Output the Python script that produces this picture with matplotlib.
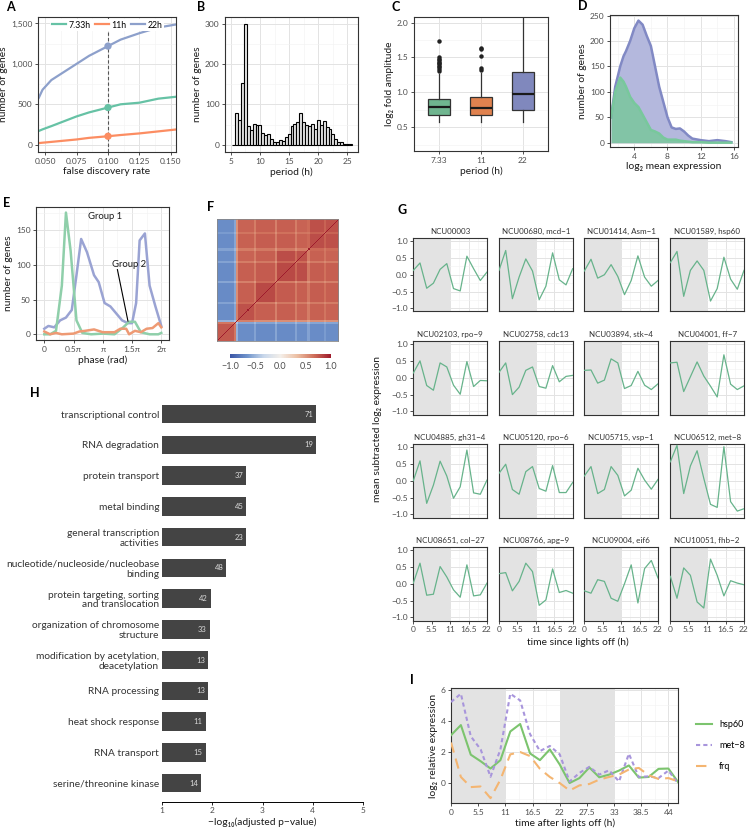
import numpy as np
import matplotlib
matplotlib.use('Agg')
import matplotlib.pyplot as plt
from matplotlib.ticker import AutoMinorLocator, FuncFormatter
from matplotlib.colors import LinearSegmentedColormap, Normalize
import matplotlib.cm as cm

plt.rcParams['font.family'] = ['Lato', 'DejaVu Sans']
plt.rcParams['axes.unicode_minus'] = True

W, H = 749, 830

GREEN = '#66c2a5'
ORANGE = '#fc8d62'
PURPLE = '#8da0cb'

# ---- A: genes vs FDR
fdr = [0.045, 0.048, 0.055, 0.065, 0.075, 0.085, 0.100, 0.110, 0.125, 0.140, 0.155]
genes_733 = [170, 190, 230, 290, 350, 400, 460, 500, 520, 570, 595]
genes_11 = [20, 25, 35, 50, 65, 85, 105, 120, 140, 165, 190]
genes_22 = [580, 680, 800, 900, 1000, 1100, 1220, 1300, 1380, 1450, 1490]

# ---- B: period histogram
period_bins = np.arange(5.5, 25.75, 0.5)
period_counts = [0, 78, 62, 152, 300, 46, 36, 52, 50, 48, 30, 24, 26, 14, 6,
                 8, 12, 10, 18, 26, 46, 52, 56, 80, 56, 50, 46, 52, 38, 62,
                 48, 58, 44, 40, 26, 14, 8, 8, 2, 1, 1]

# ---- C: amplitude boxplots
box_labels = ['7.33', '11', '22']
box_q1 = [0.67, 0.68, 0.75]
box_med = [0.79, 0.77, 0.97]
box_q3 = [0.91, 0.94, 1.29]
box_lo = [0.58, 0.58, 0.58]
box_hi = [1.27, 1.28, 2.10]
box_fliers = [[1.30, 1.33, 1.36, 1.38, 1.40, 1.42, 1.44, 1.46, 1.48, 1.50, 1.73],
              [1.32, 1.35, 1.52, 1.62, 1.64],
              []]

# ---- D: mean expression densities
expr_x = [1.2, 1.7, 2.3, 2.7, 3.0, 3.5, 4.0, 4.5, 5.0, 5.5, 6.0, 6.5, 7.0, 7.5,
          8.0, 8.5, 9.0, 9.5, 10.0, 10.5, 11.0, 12.0, 13.0, 14.0, 15.0, 15.7]
expr_22 = [50, 110, 150, 170, 180, 200, 225, 240, 232, 210, 190, 150, 110, 80,
           50, 30, 27, 28, 22, 14, 8, 5, 3, 5, 3, 1]
expr_733 = [50, 100, 128, 120, 110, 90, 78, 70, 55, 40, 25, 22, 18, 10,
            6, 6, 6, 4, 3, 2, 1, 1, 0, 0, 0, 0]

# ---- E: phase distributions (units of pi)
phase_green = [0, 0.1, 0.2, 0.3, 0.37, 0.45, 0.55, 0.65, 0.8, 1.0, 1.2, 1.35, 1.45, 1.55, 1.65, 1.8, 1.95, 2.0]
count_green = [0, 0, 5, 70, 175, 120, 20, 2, 0, 1, 0, 10, 18, 18, 3, 0, 0, 2]
phase_purple = [0, 0.07, 0.17, 0.27, 0.37, 0.47, 0.55, 0.63, 0.73, 0.85, 0.93, 1.03, 1.13, 1.23, 1.33,
                1.43, 1.5, 1.57, 1.63, 1.72, 1.8, 1.9, 2.0]
count_purple = [8, 12, 10, 20, 24, 35, 85, 137, 118, 85, 75, 45, 40, 30, 20, 16, 16, 45, 135, 145, 70, 40, 12]
phase_orange = [0, 0.1, 0.2, 0.3, 0.5, 0.6, 0.7, 0.85, 1.0, 1.1, 1.2, 1.3, 1.4, 1.45, 1.55, 1.65, 1.75, 1.85, 1.95, 2.0]
count_orange = [4, 0, 2, 0, 1, 4, 5, 7, 3, 3, 3, 8, 8, 0, 5, 3, 8, 9, 16, 10]

# ---- F: correlation blocks (n genes, group sign, strength, cluster)
segments = [(17, -1, 0.82, 0), (2, -1, 0.68, 0), (2, 1, 0.62, 1), (15, 1, 0.84, 1),
            (2, 1, 0.72, 1), (19, 1, 0.86, 2), (2, 1, 0.7, 2), (18, 1, 0.86, 3),
            (2, 1, 0.72, 3), (10, 1, 0.84, 3), (2, 1, 0.72, 4), (14, 1, 0.85, 4),
            (2, 1, 0.76, 4), (13, 1, 0.84, 4)]

# ---- G: example genes
g_time = np.arange(0, 23, 2)
g_titles = ['NCU00003', 'NCU00680, mcd\u22121', 'NCU01414, Asm\u22121', 'NCU01589, hsp60',
            'NCU02103, rpo\u22129', 'NCU02758, cdc13', 'NCU03894, stk\u22124', 'NCU04001, ff\u22127',
            'NCU04885, gh31\u22124', 'NCU05120, rpo\u22126', 'NCU05715, vsp\u22121', 'NCU06512, met\u22128',
            'NCU08651, col\u221227', 'NCU08766, apg\u22129', 'NCU09004, eif6', 'NCU10051, fhb\u22122']
g_values = [
    [0.13, 0.35, -0.40, -0.25, 0.16, 0.33, -0.41, -0.48, 0.55, 0.18, -0.17, 0.08],
    [0.13, 0.72, -0.71, -0.07, 0.47, 0.11, -0.74, -0.34, 0.65, -0.15, -0.30, 0.18],
    [0.11, 0.46, -0.10, 0.00, 0.30, -0.05, -0.59, -0.17, 0.56, -0.07, -0.34, -0.17],
    [0.36, 0.69, -0.64, 0.13, 0.41, 0.13, -0.78, -0.41, 0.52, -0.13, -0.43, 0.13],
    [0.14, 0.50, -0.23, -0.37, 0.44, 0.32, -0.22, -0.49, 0.48, -0.26, -0.08, -0.09],
    [0.16, 0.44, -0.50, -0.28, 0.22, 0.32, -0.26, -0.31, 0.36, -0.12, 0.04, 0.07],
    [0.22, 0.23, -0.16, -0.07, 0.56, 0.44, -0.32, -0.23, 0.19, -0.22, -0.35, -0.18],
    [0.44, 0.46, -0.41, 0.03, 0.47, 0.05, -0.25, -0.57, 0.68, -0.19, -0.35, -0.24],
    [0.00, 0.59, -0.67, -0.13, 0.58, 0.14, -0.52, -0.18, 0.91, -0.36, -0.40, 0.02],
    [0.22, 0.49, -0.26, -0.40, 0.27, 0.42, -0.23, -0.31, 0.45, -0.35, -0.35, -0.05],
    [0.14, 0.42, -0.38, -0.26, 0.42, 0.16, -0.45, -0.28, 0.37, 0.02, -0.25, 0.04],
    [0.56, 1.05, -0.38, 0.44, 0.89, 0.07, -0.70, -0.79, 1.01, -0.62, -0.90, -0.83],
    [0.02, 0.61, -0.34, -0.31, 0.51, 0.20, -0.18, -0.40, 0.56, -0.36, -0.33, 0.02],
    [0.30, 0.33, -0.21, 0.07, 0.61, 0.36, -0.64, -0.48, 0.44, -0.26, -0.20, -0.28],
    [-0.21, -0.28, 0.12, 0.07, -0.43, -0.52, 0.00, 0.56, -0.57, 0.45, 0.69, 0.17],
    [0.22, -0.43, 0.47, 0.25, -0.54, -0.72, 0.73, 0.25, -0.36, 0.09, 0.02, -0.03],
]

# ---- H: enrichment
categories = ['transcriptional control', 'RNA degradation', 'protein transport', 'metal binding',
              'general transcription\nactivities', 'nucleotide/nucleoside/nucleobase\nbinding',
              'protein targeting, sorting\nand translocation', 'organization of chromosome\nstructure',
              'modification by acetylation,\ndeacetylation', 'RNA processing', 'heat shock response',
              'RNA transport', 'serine/threonine kinase']
neglog_p = [4.07, 4.07, 2.68, 2.68, 2.68, 2.28, 1.97, 1.95, 1.92, 1.92, 1.87, 1.87, 1.78]
n_genes = [71, 19, 37, 45, 23, 48, 42, 33, 13, 13, 11, 15, 14]

# ---- I: qPCR time course
i_time = np.arange(0, 47, 2)
hsp60 = [3.07, 3.72, 1.82, 1.40, 0.93, 1.47, 3.31, 3.79, 1.90, 1.47, 2.16, 1.19,
         0.00, 0.32, 1.00, 0.37, 0.54, 0.80, 1.13, 0.35, 0.39, 0.91, 0.93, 0.04]
met8 = [5.20, 5.73, 3.00, 2.16, 0.40, 2.16, 5.73, 5.30, 3.14, 2.05, 2.38, 1.84,
        0.10, 0.65, 1.04, 0.54, 0.82, 0.10, 1.88, 0.39, 0.43, 0.32, 0.80, -0.05]
frq = [2.60, 0.39, -0.26, -0.22, -0.97, 0.22, 1.84, 1.99, 1.73, 0.91, 0.39, 0.00,
       -0.48, -0.15, -0.06, 0.22, 0.39, 0.54, 0.87, 0.97, 0.50, 0.26, 0.32, 0.10]

TICK = 6
TITLE = 7.4
TXT = '#1a1a1a'

fig = plt.figure(figsize=(W / 100, H / 100), dpi=100)


def px_axes(x0, y0, x1, y1):
    return fig.add_axes([x0 / W, 1 - y1 / H, (x1 - x0) / W, (y1 - y0) / H])


def bw(ax, minor=True):
    for s in ax.spines.values():
        s.set_color('#333333')
        s.set_linewidth(0.8)
    ax.set_axisbelow(True)
    if minor:
        ax.xaxis.set_minor_locator(AutoMinorLocator(2))
        ax.yaxis.set_minor_locator(AutoMinorLocator(2))
        ax.grid(True, which='minor', color='#f2f2f2', lw=0.4)
    ax.grid(True, which='major', color='#e3e3e3', lw=0.7)
    ax.tick_params(which='major', length=2.5, width=0.6, colors='#333333',
                   labelsize=TICK, labelcolor='#4d4d4d', pad=1.5)
    ax.tick_params(which='minor', length=0)


def letter(x, y, s):
    fig.text(x / W, 1 - y / H, s, fontsize=9, fontweight='bold', va='center', ha='left')


# A
ax = px_axes(38, 17, 176, 152)
bw(ax)
ax.plot(fdr, genes_733, color=GREEN, lw=1.6, label='7.33h')
ax.plot(fdr, genes_11, color=ORANGE, lw=1.6, label='11h')
ax.plot(fdr, genes_22, color=PURPLE, lw=1.6, label='22h')
ax.axvline(0.1, color='#555555', lw=0.8, ls=(0, (3, 2)))
ax.scatter([0.1, 0.1, 0.1], [genes_733[6], genes_11[6], genes_22[6]],
           color=[GREEN, ORANGE, PURPLE], s=18, zorder=5)
ax.set_xlim(0.0444, 0.154)
ax.set_ylim(-90, 1580)
ax.set_xticks([0.050, 0.075, 0.100, 0.125, 0.150])
ax.set_yticks([0, 500, 1000, 1500])
ax.yaxis.set_major_formatter(FuncFormatter(lambda v, p: f'{int(v):,}'))
ax.set_xlabel('false discovery rate', fontsize=TITLE, color=TXT, labelpad=2)
ax.set_ylabel('number of genes', fontsize=TITLE, color=TXT, labelpad=2)
leg = ax.legend(loc='upper center', ncol=3, fontsize=6.3, frameon=True, handlelength=1.6,
                columnspacing=0.5, handletextpad=0.3, borderpad=0.2, borderaxespad=0.2)
leg.get_frame().set_edgecolor('none')
leg.get_frame().set_alpha(1)
letter(6, 7, 'A')

# B
ax = px_axes(225, 17, 358, 152)
bw(ax)
ax.bar(period_bins, period_counts, width=0.5, color='#e6e6e6', edgecolor='black', lw=0.8)
ax.set_xlim(4.02, 26.8)
ax.set_ylim(-18, 317)
ax.set_xticks([5, 10, 15, 20, 25])
ax.set_yticks([0, 100, 200, 300])
ax.set_xlabel('period (h)', fontsize=TITLE, color=TXT, labelpad=2)
ax.set_ylabel('number of genes', fontsize=TITLE, color=TXT, labelpad=2)
letter(197, 7, 'B')

# C
ax = px_axes(414, 17, 548, 151)
bw(ax)
ax.xaxis.set_minor_locator(matplotlib.ticker.NullLocator())
stats = []
for i in range(3):
    stats.append(dict(q1=box_q1[i], med=box_med[i], q3=box_q3[i], whislo=box_lo[i],
                      whishi=box_hi[i], fliers=box_fliers[i]))
bp = ax.bxp(stats, positions=[1, 2, 3], widths=0.52, patch_artist=True,
            medianprops=dict(color='#1a1a1a', lw=1.6),
            whiskerprops=dict(color='#333333', lw=0.9), capprops=dict(lw=0),
            boxprops=dict(edgecolor='#333333', lw=0.9),
            flierprops=dict(marker='o', markerfacecolor='#222222', markeredgecolor='none', markersize=3.2))
for patch, c in zip(bp['boxes'], ['#6fb58f', '#e0824f', '#8088bd']):
    patch.set_facecolor(c)
ax.set_xlim(0.4, 3.6)
ax.set_ylim(0.16, 2.08)
ax.set_xticks([1, 2, 3])
ax.set_xticklabels(box_labels)
ax.set_yticks([0.5, 1.0, 1.5, 2.0])
ax.set_xlabel('period (h)', fontsize=TITLE, color=TXT, labelpad=2)
ax.set_ylabel('log\u2082 fold amplitude', fontsize=TITLE, color=TXT, labelpad=2)
letter(391, 7, 'C')

# D
ax = px_axes(610, 15, 738, 147)
bw(ax)
ax.fill_between(expr_x, expr_22, color='#b4b8dd', lw=0)
ax.plot(expr_x, expr_22, color='#8189c4', lw=1.8)
ax.fill_between(expr_x, expr_733, color='#7dc6a0', alpha=0.9, lw=0)
ax.plot(expr_x, expr_733, color='#78c89c', lw=1.8)
ax.set_xlim(1.07, 16.5)
ax.set_ylim(-8.5, 251)
ax.set_xticks([4, 8, 12, 16])
ax.set_yticks([0, 50, 100, 150, 200, 250])
ax.set_xlabel('log\u2082 mean expression', fontsize=TITLE, color=TXT, labelpad=2)
ax.set_ylabel('number of genes', fontsize=TITLE, color=TXT, labelpad=2)
letter(578, 6, 'D')

# E
ax = px_axes(36, 207, 169, 340)
bw(ax)
ax.plot(phase_purple, count_purple, color='#9aa3d3', lw=1.8)
ax.plot(phase_green, count_green, color='#8fcfaa', lw=1.8)
ax.plot(phase_orange, count_orange, color='#ee9a74', lw=1.8)
ax.set_xlim(-0.142, 2.132)
ax.set_ylim(-8.2, 183)
ax.set_xticks([0, 0.5, 1, 1.5, 2])
ax.set_xticklabels(['0', '0.5\u03c0', '\u03c0', '1.5\u03c0', '2\u03c0'])
ax.set_yticks([0, 50, 100, 150])
ax.text(0.75, 170, 'Group 1', fontsize=6.8, color=TXT, va='center', ha='left')
ax.text(1.16, 101, 'Group 2', fontsize=6.8, color=TXT, va='center', ha='left')
ax.plot([1.25, 1.43], [93, 19], color='black', lw=0.8)
ax.set_xlabel('phase (rad)', fontsize=TITLE, color=TXT, labelpad=2)
ax.set_ylabel('number of genes', fontsize=TITLE, color=TXT, labelpad=2)
letter(3, 203, 'E')

# F
sign = np.concatenate([[s] * n for n, s, r, c in segments])
strength = np.concatenate([[r] * n for n, s, r, c in segments])
cluster = np.concatenate([[c] * n for n, s, r, c in segments])
corr = np.outer(sign * strength, sign * strength)
corr += 0.07 * (cluster[:, None] == cluster[None, :]) * np.sign(corr)
np.fill_diagonal(corr, 1.0)
cmap = LinearSegmentedColormap.from_list('rb', ['#3b56a6', '#6f93cb', '#c9d8eb', '#f4efea',
                                                '#ecbfa3', '#cf6f5a', '#9e1a2c'])
ax = px_axes(217, 219, 338, 341)
ax.imshow(corr, cmap=cmap, vmin=-1, vmax=1, origin='lower', aspect='auto', interpolation='nearest')
ax.set_xticks([])
ax.set_yticks([])
for s in ax.spines.values():
    s.set_color('#888888')
    s.set_linewidth(0.6)
cax = px_axes(230, 354, 331, 358)
cb = fig.colorbar(cm.ScalarMappable(norm=Normalize(-1, 1), cmap=cmap), cax=cax, orientation='horizontal')
cb.outline.set_visible(False)
cb.set_ticks([-1, -0.5, 0, 0.5, 1])
cb.ax.set_xticklabels(['\u22121.0', '\u22120.5', '0.0', '0.5', '1.0'])
cb.ax.tick_params(length=0, labelsize=6.5, labelcolor='#4d4d4d', pad=3)
letter(207, 207, 'F')

# G
col_x = [413.3, 499, 584.3, 670.3]
row_y = [238, 341, 444, 547]
for k in range(16):
    r, c = divmod(k, 4)
    ax = px_axes(col_x[c], row_y[r], col_x[c] + 73.7, row_y[r] + 73.5)
    bw(ax)
    ax.axvspan(0, 11, color='#e3e3e3', lw=0, zorder=1)
    ax.plot(g_time, g_values[k], color='#67b38b', lw=0.9, zorder=3)
    ax.set_xlim(0, 22)
    ax.set_ylim(-1.09, 1.09)
    ax.set_xticks([0, 5.5, 11, 16.5, 22])
    ax.set_xticklabels(['0', '5.5', '11', '16.5', '22'])
    ax.set_yticks([-1, -0.5, 0, 0.5, 1])
    ax.yaxis.set_major_formatter(FuncFormatter(lambda v, p: f'{v:.1f}'.replace('-', '\u2212')))
    if c != 0:
        ax.tick_params(axis='y', which='major', length=0, labelleft=False)
    if r != 3:
        ax.tick_params(axis='x', which='major', length=0, labelbottom=False)
    ax.set_title(g_titles[k], fontsize=5.8, color='#333333', pad=3)
fig.text(378 / W, 1 - 429 / H, 'mean subtracted log\u2082 expression', rotation=90,
         fontsize=TITLE, color=TXT, ha='center', va='center')
fig.text(578 / W, 1 - 642 / H, 'time since lights off (h)', fontsize=TITLE, color=TXT,
         ha='center', va='center')
letter(397, 210, 'G')

# H
ax = px_axes(162, 400, 363, 801.7)
ypos = -np.arange(len(categories))
ax.barh(ypos, neglog_p, height=0.6, color='#444444')
for y, v, n in zip(ypos, neglog_p, n_genes):
    ax.text(v - 0.06, y, str(n), fontsize=5.5, color='#d9d9d9', ha='right', va='center')
ax.set_xlim(1.0, 5.0)
ax.set_ylim(-12.6, 0.455)
ax.set_yticks(ypos)
ax.set_yticklabels(categories, fontsize=7.3, color='#333333', linespacing=1.1)
ax.set_xticks([1, 2, 3, 4, 5])
ax.tick_params(axis='y', length=0, pad=2)
ax.tick_params(axis='x', length=2.5, width=0.6, labelsize=TICK, labelcolor='#4d4d4d', pad=1.5)
for s in ['top', 'right', 'left']:
    ax.spines[s].set_visible(False)
ax.spines['bottom'].set_linewidth(0.7)
ax.set_xlabel('\u2212log\u2081\u2080(adjusted p\u2212value)', fontsize=TITLE, color=TXT, labelpad=2)
letter(30, 393, 'H')

# I
ax = px_axes(451, 688, 678.3, 803.3)
bw(ax)
ax.axvspan(0, 11, color='#e3e3e3', lw=0, zorder=1)
ax.axvspan(22, 33, color='#e3e3e3', lw=0, zorder=1)
ax.plot(i_time, hsp60, color='#7cc46e', lw=1.5, label='hsp60', zorder=3)
ax.plot(i_time, met8, color='#a895dc', lw=1.5, ls=(0, (2, 1.5)), label='met\u22128', zorder=3)
ax.plot(i_time, frq, color='#f4b571', lw=1.5, ls=(0, (5, 3)), label='frq', zorder=3)
ax.set_xlim(0, 46)
ax.set_ylim(-1.3, 6.1)
ax.set_xticks([0, 5.5, 11, 16.5, 22, 27.5, 33, 38.5, 44])
ax.set_xticklabels(['0', '5.5', '11', '16.5', '22', '27.5', '33', '38.5', '44'])
ax.set_yticks([0, 2, 4, 6])
ax.set_xlabel('time after lights off (h)', fontsize=TITLE, color=TXT, labelpad=2)
ax.set_ylabel('log\u2082 relative expression', fontsize=TITLE, color=TXT, labelpad=2)
leg = ax.legend(loc='center left', bbox_to_anchor=(1.04, 0.5), frameon=False, fontsize=6.5,
                handlelength=1.8, labelspacing=1.3)
letter(410, 680, 'I')

fig.savefig('out.png', dpi=100)
